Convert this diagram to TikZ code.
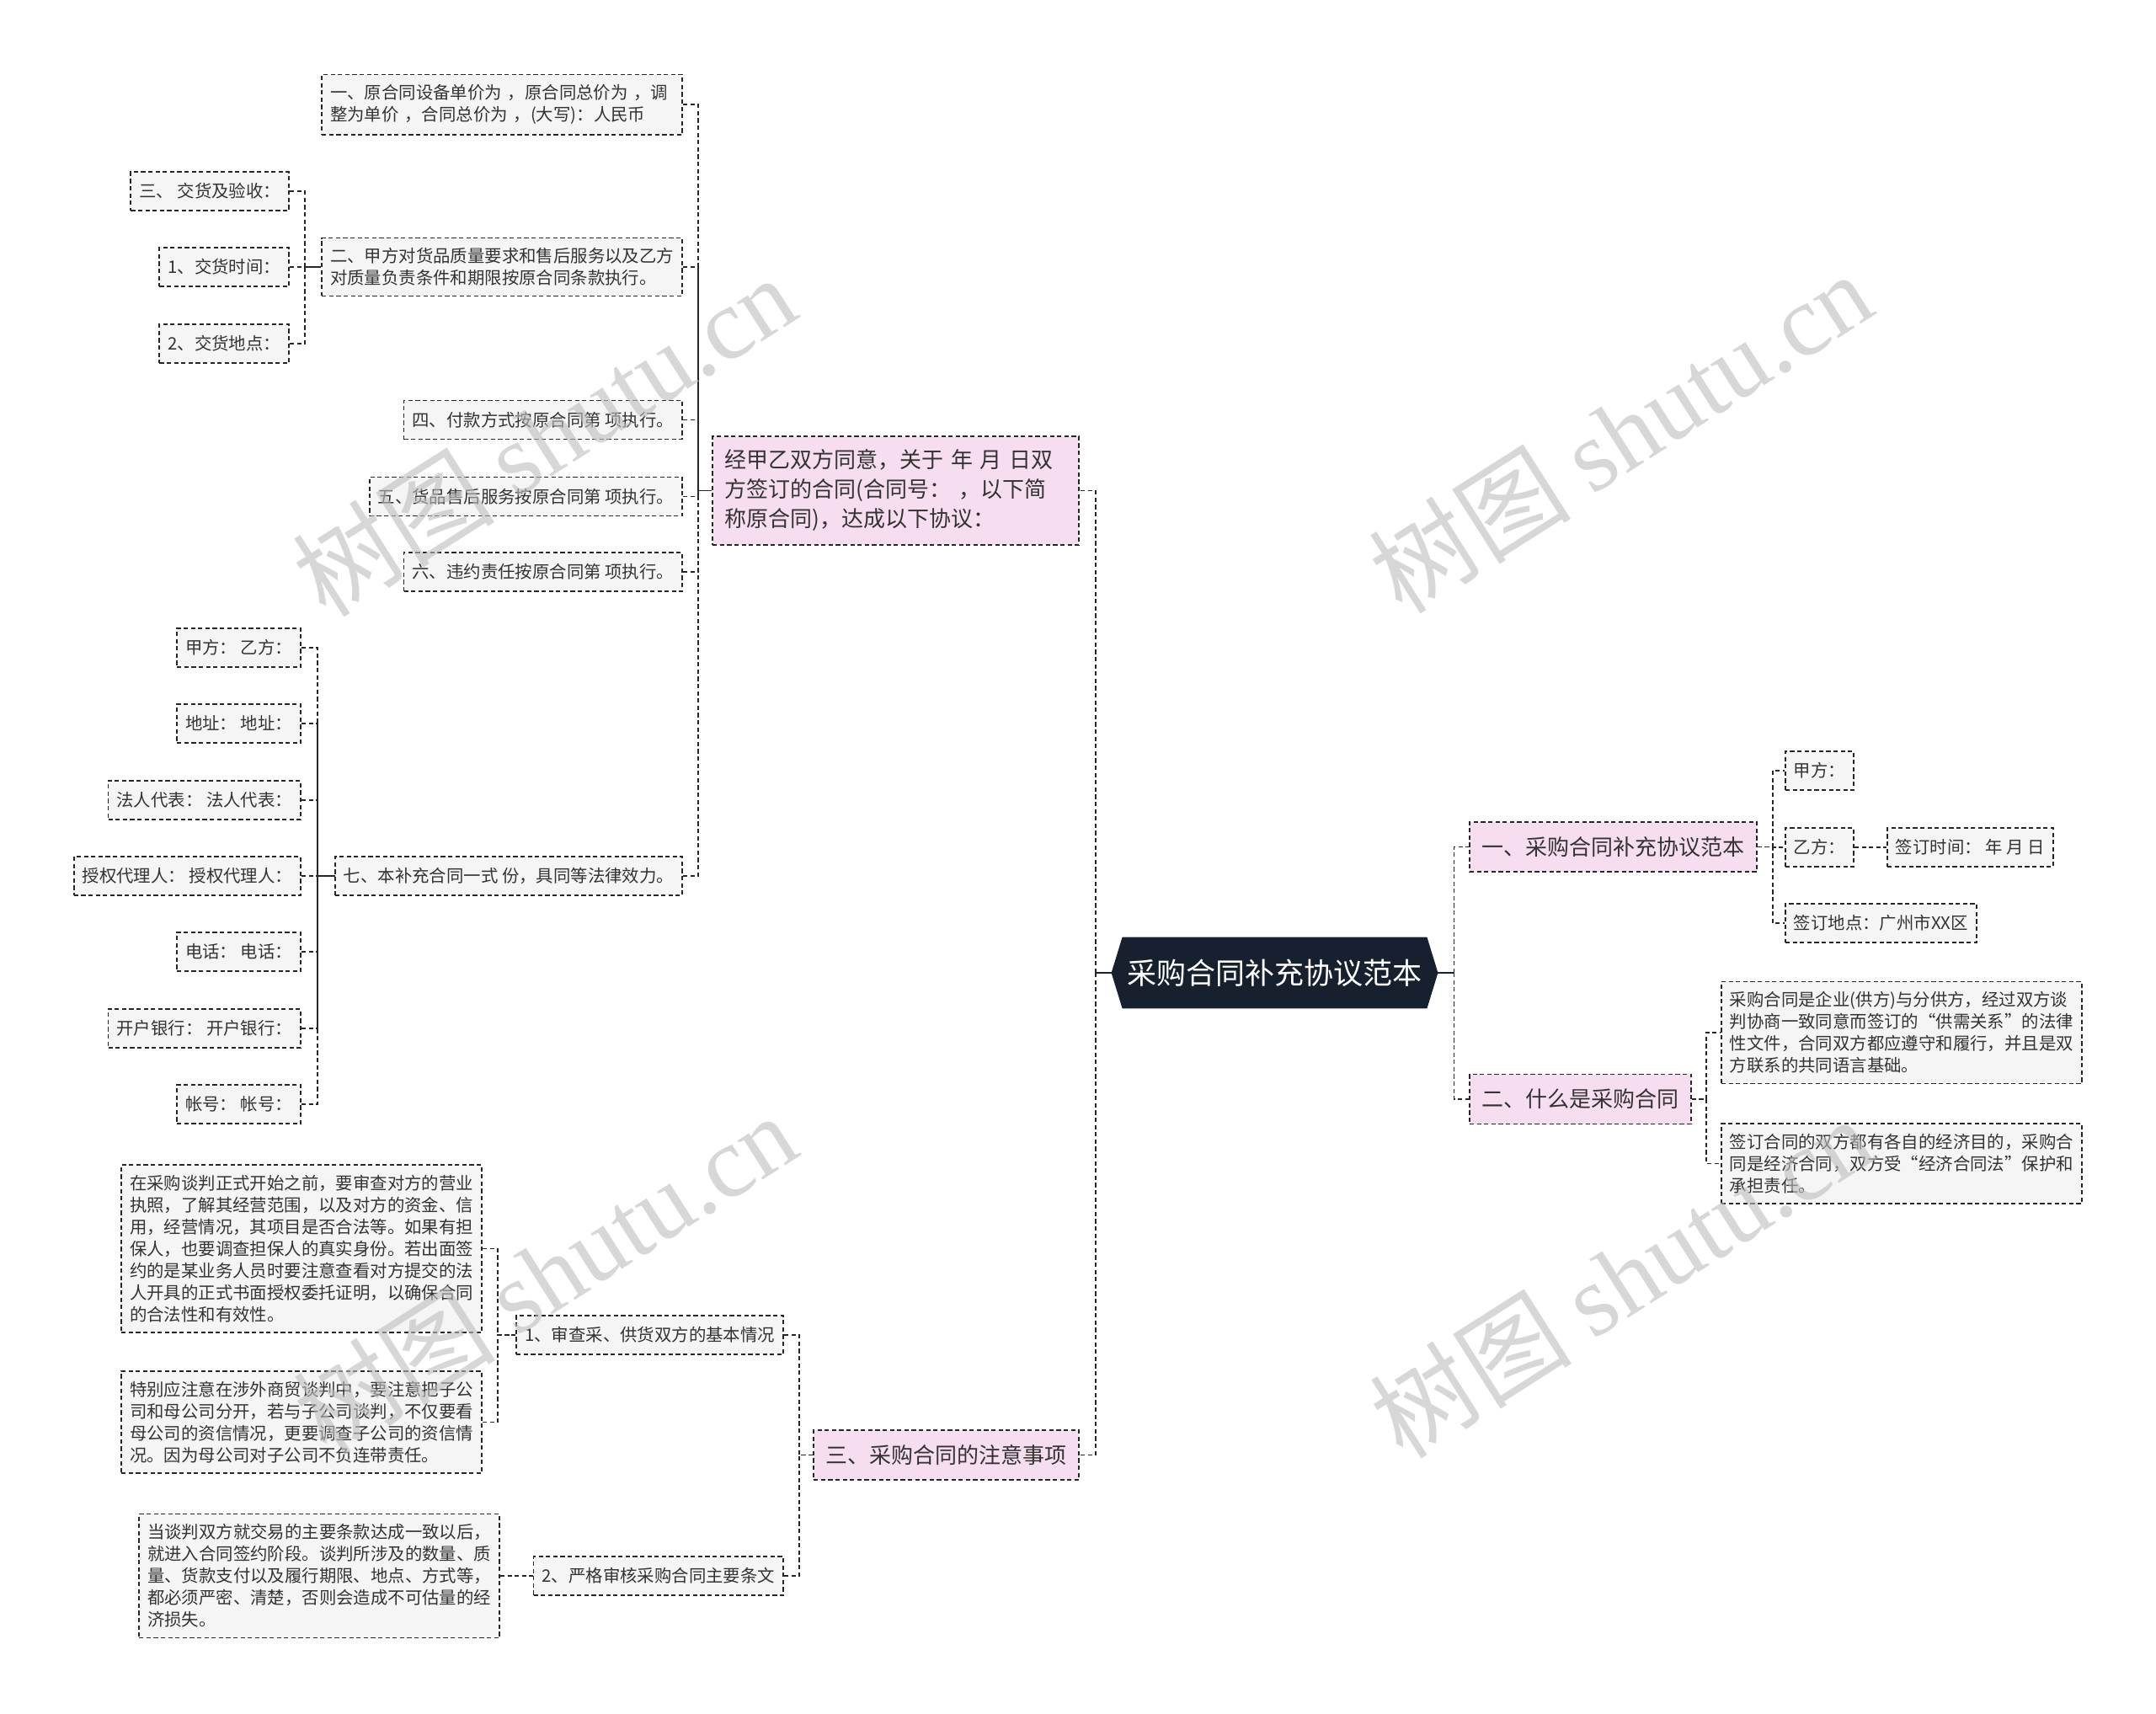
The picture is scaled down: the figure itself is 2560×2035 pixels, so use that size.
\documentclass[tikz,border=0pt]{standalone}
\usepackage{fontspec}
\setmainfont{Noto Sans CJK SC}
\newfontfamily\wmserif{Liberation Serif}
\usetikzlibrary{backgrounds}
\definecolor{linec}{HTML}{262626}
\definecolor{leafc}{HTML}{F5F5F5}
\definecolor{pinkc}{HTML}{F7DDF0}
\definecolor{textc}{HTML}{333333}
\definecolor{rootc}{HTML}{17202F}
\definecolor{wmc}{HTML}{BDBDBD}
\begin{document}
\begin{tikzpicture}[x=0.5pt,y=-0.5pt,
  leaf/.style={draw=linec, line width=0.9pt, dash pattern=on 2.6pt off 1.7pt, fill=leafc, text=textc,
    font=\fontsize{10.2pt}{13pt}\selectfont, inner xsep=5pt, inner ysep=6pt, minimum height=23pt, align=left},
  pinkbox/.style={leaf, fill=pinkc, font=\fontsize{13pt}{17.5pt}\selectfont, inner xsep=7.25pt, inner ysep=8pt, minimum height=29.5pt},
  rootnode/.style={text=white, font=\fontsize{17.5pt}{20pt}\selectfont, minimum width=180.5pt, minimum height=42pt, inner sep=0pt},
  conn/.style={draw=linec, line width=0.9pt, dash pattern=on 2.6pt off 1.7pt},
  stub/.style={draw=rootc, line width=1.2pt},
  wm/.style={text=wmc, text opacity=0.6, font=\fontsize{60pt}{66pt}\selectfont, inner sep=0pt}
]
\useasboundingbox (0,0) rectangle (2560,2035);

% root
\node[rootnode] (root) at (1513.5,1155) {采购合同补充协议范本};
\begin{scope}[on background layer]
\fill[white] (0,0) rectangle (2560,2035);
\fill[rootc] (root.north west) -- (root.north east) -- ([xshift=6.5pt]root.east) -- (root.south east) -- (root.south west) -- ([xshift=-6.5pt]root.west) -- cycle;
\end{scope}
\coordinate (rootR) at ([xshift=6.5pt]root.east);
\coordinate (rootL) at ([xshift=-6.5pt]root.west);

% level 1
\node[pinkbox, anchor=west] (P1) at (1744,1005.5) {一、采购合同补充协议范本};
\node[pinkbox, anchor=west] (P2) at (1744,1305) {二、什么是采购合同};
\node[pinkbox, anchor=east, text width=203pt] (PA) at (1282,582.5) {经甲乙双方同意，关于 年 月 日双\\方签订的合同(合同号： ，以下简\\称原合同)，达成以下协议：};
\node[pinkbox, anchor=east] (PB) at (1282,1727.5) {三、采购合同的注意事项};

% right children
\node[leaf, anchor=west] (R11) at (2119,915) {甲方：};
\node[leaf, anchor=west] (R12) at (2119,1006) {乙方：};
\node[leaf, anchor=west] (R13) at (2240,1006) {签订时间： 年 月 日};
\node[leaf, anchor=west] (R14) at (2119,1096) {签订地点：广州市XX区};
\node[leaf, anchor=west] (Q1) at (2043,1226) {采购合同是企业(供方)与分供方，经过双方谈\\判协商一致同意而签订的“供需关系”的法律\\性文件，合同双方都应遵守和履行，并且是双\\方联系的共同语言基础。};
\node[leaf, anchor=west] (Q2) at (2043,1381.5) {签订合同的双方都有各自的经济目的，采购合\\同是经济合同，双方受“经济合同法”保护和\\承担责任。};

% PA children
\node[leaf, anchor=east, text width=204pt] (A1) at (811,124) {一、原合同设备单价为 ，原合同总价为 ，调\\整为单价 ，合同总价为 ，(大写)：人民币};
\node[leaf, anchor=east] (A2) at (811,317) {二、甲方对货品质量要求和售后服务以及乙方\\对质量负责条件和期限按原合同条款执行。};
\node[leaf, anchor=east] (A4) at (811,498.5) {四、付款方式按原合同第 项执行。};
\node[leaf, anchor=east] (A5) at (811,589.5) {五、货品售后服务按原合同第 项执行。};
\node[leaf, anchor=east] (A6) at (811,679) {六、违约责任按原合同第 项执行。};
\node[leaf, anchor=east] (A7) at (811,1040) {七、本补充合同一式 份，具同等法律效力。};

\node[leaf, anchor=east] (A21) at (344,227) {三、 交货及验收：};
\node[leaf, anchor=east] (A22) at (344,317) {1、交货时间：};
\node[leaf, anchor=east] (A23) at (344,408) {2、交货地点：};

\node[leaf, anchor=east] (A71) at (358,769) {甲方： 乙方：};
\node[leaf, anchor=east] (A72) at (358,859) {地址： 地址：};
\node[leaf, anchor=east] (A73) at (358,950) {法人代表： 法人代表：};
\node[leaf, anchor=east] (A74) at (358,1040) {授权代理人： 授权代理人：};
\node[leaf, anchor=east] (A75) at (358,1130) {电话： 电话：};
\node[leaf, anchor=east] (A76) at (358,1221) {开户银行： 开户银行：};
\node[leaf, anchor=east] (A77) at (358,1311) {帐号： 帐号：};

% PB children
\node[leaf, anchor=east] (B1) at (931,1585) {1、审查采、供货双方的基本情况};
\node[leaf, anchor=east] (B2) at (931,1871) {2、严格审核采购合同主要条文};
\node[leaf, anchor=east] (B11) at (573,1482.5) {在采购谈判正式开始之前，要审查对方的营业\\执照，了解其经营范围，以及对方的资金、信\\用，经营情况，其项目是否合法等。如果有担\\保人，也要调查担保人的真实身份。若出面签\\约的是某业务人员时要注意查看对方提交的法\\人开具的正式书面授权委托证明，以确保合同\\的合法性和有效性。};
\node[leaf, anchor=east] (B12) at (573,1688.5) {特别应注意在涉外商贸谈判中，要注意把子公\\司和母公司分开，若与子公司谈判，不仅要看\\母公司的资信情况，更要调查子公司的资信情\\况。因为母公司对子公司不负连带责任。};
\node[leaf, anchor=east] (B21) at (594,1871) {当谈判双方就交易的主要条款达成一致以后，\\就进入合同签约阶段。谈判所涉及的数量、质\\量、货款支付以及履行期限、地点、方式等，\\都必须严密、清楚，否则会造成不可估量的经\\济损失。};

% root connectors
\draw[stub] (rootR) -- ++(19,0) coordinate (busR);
\draw[stub] (rootL) -- ++(-19,0) coordinate (busL);
\draw[conn] (busR) |- (P1.west);
\draw[conn] (busR) |- (P2.west);
\draw[conn] (busL) |- (PA.east);
\draw[conn] (busL) |- (PB.east);

% P1 / P2
\foreach \c in {R11,R12,R14} \draw[conn] (P1.east) -- ++(18,0) |- (\c.west);
\draw[conn] (R12.east) -- (R13.west);
\foreach \c in {Q1,Q2} \draw[conn] (P2.east) -- ++(17,0) |- (\c.west);

% PA
\foreach \c in {A1,A2,A4,A5,A6,A7} \draw[conn] (\c.east) -- ++(18,0) |- (PA.west);
\foreach \c in {A21,A22,A23} \draw[conn] (\c.east) -- ++(18,0) |- (A2.west);
\foreach \c in {A71,A72,A73,A74,A75,A76,A77} \draw[conn] (\c.east) -- ++(19,0) |- (A7.west);

% PB
\foreach \c in {B1,B2} \draw[conn] (\c.east) -- ++(18,0) |- (PB.west);
\foreach \c in {B11,B12} \draw[conn] (\c.east) -- ++(18,0) |- (B1.west);
\draw[conn] (B21.east) -- (B2.west);

% watermarks
\node[wm, rotate=32.5] (wm1) at (646,517) {树图 {\wmserif shutu.cn}};
\node[wm, rotate=32.5] (wm2) at (1924,513) {树图 {\wmserif shutu.cn}};
\node[wm, rotate=32.5] (wm3) at (647,1512) {树图 {\wmserif shutu.cn}};
\node[wm, rotate=32.5] (wm4) at (1925,1516) {树图 {\wmserif shutu.cn}};
\end{tikzpicture}
\end{document}
